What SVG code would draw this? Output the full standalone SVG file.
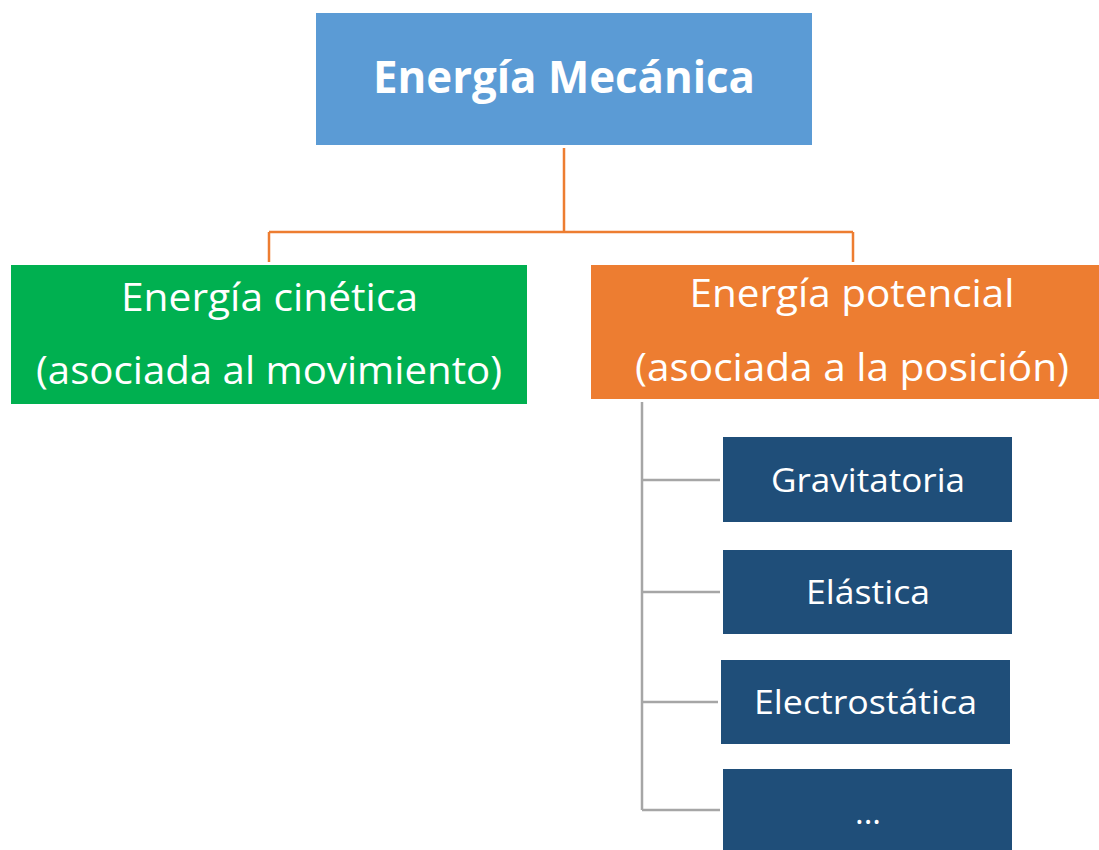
<svg xmlns="http://www.w3.org/2000/svg" width="1099" height="850" viewBox="0 0 1099 850">
<style>
text{font-family:"Open Sans","Noto Sans",sans-serif;fill:#fff;text-anchor:middle}
.t{font-size:44px;font-weight:bold}
.m{font-size:38px}
.s{font-size:33px}
.oc{stroke:#ED7D31;stroke-width:2.5;fill:none}
.gc{stroke:#A6A6A6;stroke-width:2.5;fill:none}
.sub{fill:#1F4E79}
</style>
<rect width="1099" height="850" fill="#fff"/>
<g id="connectors">
<path class="oc" d="M564 148V232M269 232H853M269 232V262M853 232V262"/>
<path class="gc" d="M642 402V810M642 480H720M642 592H720M642 702H718M642 810H720"/>
</g>
<g id="root"><rect x="316" y="13" width="496" height="132" fill="#5B9BD5"/><text class="t" x="564" y="93" textLength="382" lengthAdjust="spacingAndGlyphs">Energía Mecánica</text></g>
<g id="cinetica"><rect x="11" y="265" width="516" height="139" fill="#00B050"/><text class="m" x="269.5" y="311" textLength="297" lengthAdjust="spacingAndGlyphs">Energía cinética</text><text class="m" x="269" y="384" textLength="466" lengthAdjust="spacingAndGlyphs">(asociada al movimiento)</text></g>
<g id="potencial"><rect x="591" y="265" width="508" height="134" fill="#ED7D31"/><text class="m" x="852" y="307" textLength="325" lengthAdjust="spacingAndGlyphs">Energía potencial</text><text class="m" x="852" y="381" textLength="434" lengthAdjust="spacingAndGlyphs">(asociada a la posición)</text></g>
<g id="gravitatoria"><rect class="sub" x="723" y="437" width="289" height="85"/><text class="s" x="868" y="492" textLength="194" lengthAdjust="spacingAndGlyphs">Gravitatoria</text></g>
<g id="elastica"><rect class="sub" x="723" y="550" width="289" height="84"/><text class="s" x="868" y="604" textLength="124" lengthAdjust="spacingAndGlyphs">Elástica</text></g>
<g id="electrostatica"><rect class="sub" x="721" y="660" width="289" height="84"/><text class="s" x="865.5" y="714" textLength="223" lengthAdjust="spacingAndGlyphs">Electrostática</text></g>
<g id="otros"><rect class="sub" x="723" y="769" width="289" height="81"/><text class="s" x="868" y="824">...</text></g>
</svg>
